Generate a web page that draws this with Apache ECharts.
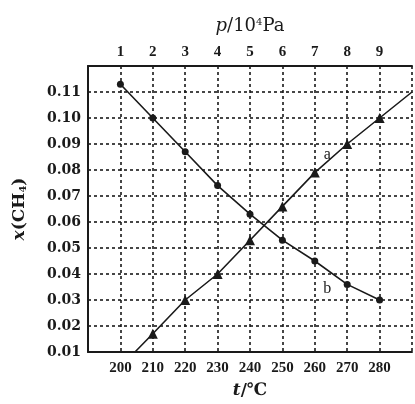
<!DOCTYPE html>
<html>
<head>
<meta charset="utf-8">
<script src="https://cdn.jsdelivr.net/npm/echarts@6/dist/echarts.min.js"></script>
<style>
html,body{margin:0;padding:0;background:#fff;}
#c{width:415px;height:404px;}
</style>
</head>
<body>
<div id="c"></div>
<script>
// Data
const tempsB = [200, 210, 220, 230, 240, 250, 260, 270, 280];
const valuesB = [0.113, 0.100, 0.087, 0.074, 0.063, 0.053, 0.045, 0.036, 0.030];
const tempsA = [204.5, 210, 220, 230, 240, 250, 260, 270, 280, 290];
const valuesA = [0.010, 0.017, 0.030, 0.040, 0.053, 0.066, 0.079, 0.090, 0.100, 0.110];
const markedA = [false, true, true, true, true, true, true, true, true, false];
const tempTicks = [200, 210, 220, 230, 240, 250, 260, 270, 280];
const pressureTicks = [1, 2, 3, 4, 5, 6, 7, 8, 9];
const yTicks = [0.01, 0.02, 0.03, 0.04, 0.05, 0.06, 0.07, 0.08, 0.09, 0.10, 0.11];

const FONT = '"Liberation Serif", "DejaVu Serif", serif';
const WIDE = '"DejaVu Serif", "Liberation Serif", serif';
const INK = '#1a1a1a';

const chart = echarts.init(document.getElementById('c'), null, {renderer: 'canvas'});

const dataA = tempsA.map((t, i) => {
  const item = {value: [t, valuesA[i]]};
  if (!markedA[i]) item.symbol = 'none';
  if (t === 270) item.label = {show: true, formatter: 'a', position: 'inside', offset: [-20, 11],
    fontFamily: FONT, fontSize: 16, color: INK};
  return item;
});
const dataB = tempsB.map((t, i) => {
  const item = {value: [t, valuesB[i]]};
  if (t === 270) item.label = {show: true, formatter: 'b', position: 'inside', offset: [-20, 4],
    fontFamily: FONT, fontSize: 16, color: INK};
  return item;
});

const dotted = {show: true, lineStyle: {color: INK, width: 1.6, type: [3, 3]}};

chart.setOption({
  animation: false,
  backgroundColor: '#fff',
  grid: {left: 88, top: 66, right: -4, bottom: 47, containLabel: false},
  xAxis: [
    {
      type: 'value', position: 'bottom', min: 190, max: 290, interval: 10,
      axisLine: {show: true, lineStyle: {color: INK, width: 2}},
      axisTick: {show: false},
      splitLine: dotted,
      axisLabel: {
        color: INK, fontFamily: FONT, fontSize: 15, fontWeight: 'bold', margin: 9,
        formatter: v => tempTicks.includes(Math.round(v)) ? String(Math.round(v)) : ''
      },
      name: '{i|t}/℃', nameLocation: 'middle', nameGap: 30,
      nameTextStyle: {color: INK, fontFamily: WIDE, fontSize: 17, fontWeight: 'bold',
        rich: {i: {fontStyle: 'italic', fontFamily: WIDE, fontSize: 17, fontWeight: 'bold', color: INK}}}
    },
    {
      type: 'value', position: 'top', min: 0, max: 10, interval: 1,
      axisLine: {show: true, lineStyle: {color: INK, width: 2}},
      axisTick: {show: false},
      splitLine: {show: false},
      axisLabel: {
        color: INK, fontFamily: FONT, fontSize: 15, fontWeight: 'bold', margin: 6,
        formatter: v => pressureTicks.includes(Math.round(v)) ? String(Math.round(v)) : ''
      },
      name: '{i|p}/10{s|4}Pa', nameLocation: 'middle', nameGap: 30,
      nameTextStyle: {color: INK, fontFamily: WIDE, fontSize: 18,
        rich: {
          i: {fontStyle: 'italic', fontFamily: WIDE, fontSize: 18, color: INK},
          s: {fontFamily: WIDE, fontSize: 10, verticalAlign: 'top', padding: [0, 0, 9, 0], color: INK}
        }}
    }
  ],
  yAxis: {
    type: 'value', min: 0.01, max: 0.12, interval: 0.01,
    axisLine: {show: true, lineStyle: {color: INK, width: 2}},
    axisTick: {show: false},
    splitLine: dotted,
    axisLabel: {
      color: INK, fontFamily: WIDE, fontSize: 14, fontWeight: 'bold', margin: 7,
      formatter: v => {
        const r = Math.round(v * 100) / 100;
        return yTicks.some(y => Math.abs(y - r) < 1e-9) ? r.toFixed(2) : '';
      }
    },
    name: '{i|x}(CH{s|4})', nameLocation: 'middle', nameGap: 60,
    nameTextStyle: {color: INK, fontFamily: WIDE, fontSize: 17, fontWeight: 'bold',
      rich: {
        i: {fontStyle: 'italic', fontFamily: WIDE, fontSize: 17, fontWeight: 'bold', color: INK},
        s: {fontFamily: WIDE, fontSize: 10, fontWeight: 'bold', padding: [7, 0, 0, 0], color: INK}
      }}
  },
  series: [
    {
      name: 'a', type: 'line', xAxisIndex: 0, data: dataA,
      symbol: 'triangle', symbolSize: 10, showAllSymbol: true,
      lineStyle: {color: INK, width: 1.6},
      itemStyle: {color: INK}
    },
    {
      name: 'b', type: 'line', xAxisIndex: 0, data: dataB,
      symbol: 'circle', symbolSize: 7, showAllSymbol: true,
      lineStyle: {color: INK, width: 1.6},
      itemStyle: {color: INK}
    }
  ]
});
</script>
</body>
</html>
